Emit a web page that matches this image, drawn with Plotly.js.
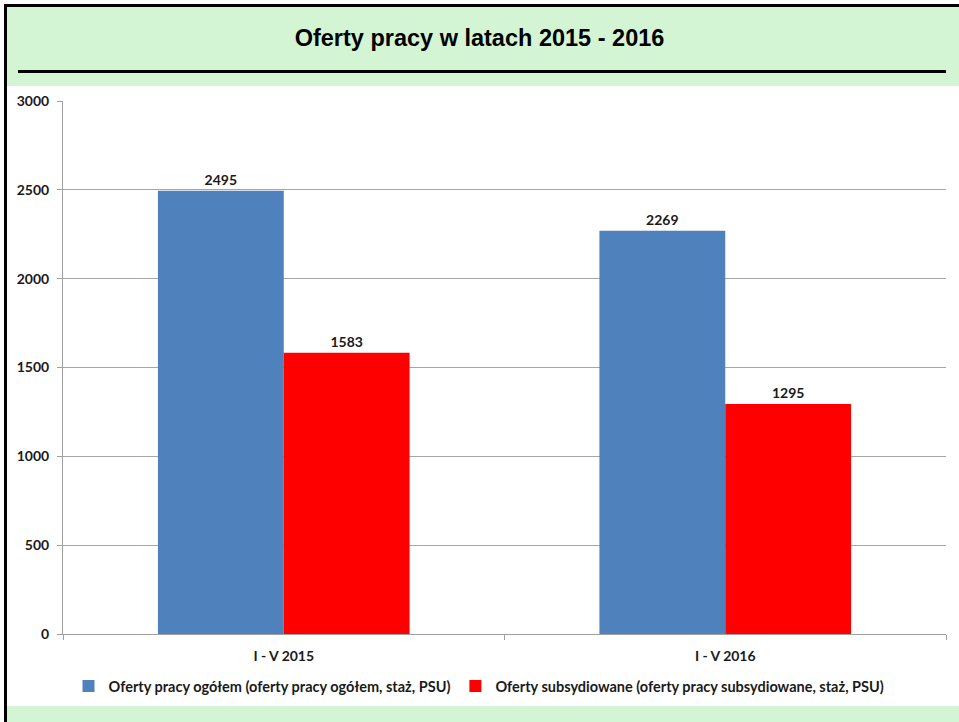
<!DOCTYPE html>
<html>
<head>
<meta charset="utf-8">
<script src="https://cdn.plot.ly/plotly-3.0.1.min.js"></script>
<style>
html,body{margin:0;padding:0;background:#fff;}
#chart{width:959px;height:722px;}
</style>
</head>
<body>
<div id="chart"></div>
<script>
const categories = ["I - V 2015", "I - V 2016"];
const seriesNames = ["Oferty pracy ogółem (oferty pracy ogółem, staż, PSU)", "Oferty subsydiowane (oferty pracy subsydiowane, staż, PSU)"];
const ogolem = [2495, 2269];
const subsydiowane = [1583, 1295];
const yTicks = [0, 500, 1000, 1500, 2000, 2500, 3000];
const titleText = "Oferty pracy w latach 2015 - 2016";

const W = 959, H = 722;
const L = 63, R = 946, T = 101, B = 634;
const px = x => (x - L) / (R - L);
const py = y => (B - y) / (B - T);

const labelFont = {family: "Lato, 'Open Sans', sans-serif", size: 14, color: "#1a1a1a", weight: "bold"};

const traces = [
  {type: "bar", name: seriesNames[0], x: categories, y: ogolem,
   marker: {color: "#4f81bd", line: {width: 0}},
   text: ogolem.map(String), textposition: "outside", cliponaxis: false,
   textfont: labelFont},
  {type: "bar", name: seriesNames[1], x: categories, y: subsydiowane,
   marker: {color: "#ff0000", line: {width: 0}},
   text: subsydiowane.map(String), textposition: "outside", cliponaxis: false,
   textfont: labelFont}
];

const green = "#d3f5d3";
const layout = {
  width: W, height: H,
  margin: {l: L, r: W - R, t: T, b: H - B, pad: 0},
  paper_bgcolor: "#ffffff",
  plot_bgcolor: "#ffffff",
  showlegend: true,
  barmode: "group",
  bargap: 0.43,
  bargroupgap: 0,
  title: {text: "<b>" + titleText + "</b>", font: {family: "'Liberation Sans', Arial, sans-serif", size: 23.5, color: "#000"},
          x: 0.5, xref: "container", xanchor: "center", y: 1 - 38 / H, yref: "container", yanchor: "middle"},
  xaxis: {type: "category", showgrid: false, showline: true, linecolor: "#a0a0a0", linewidth: 1,
          ticks: "outside", ticklen: 5, tickcolor: "#a0a0a0", tickson: "boundaries",
          tickfont: labelFont, ticklabelstandoff: 9, fixedrange: true},
  yaxis: {range: [0, 3000], tickvals: yTicks, ticktext: yTicks.map(String),
          showgrid: true, gridcolor: "#a6a6a6", gridwidth: 1, zeroline: false,
          showline: true, linecolor: "#a0a0a0", linewidth: 1,
          ticks: "outside", ticklen: 5, tickcolor: "#a0a0a0", tickfont: labelFont, ticklabelstandoff: 5, fixedrange: true},
  legend: {orientation: "h", x: px(68.5), xanchor: "left", y: py(686), yanchor: "middle",
           font: {family: "Lato, 'Open Sans', sans-serif", size: 14.5, color: "#1a1a1a", weight: "bold"},
           bgcolor: "rgba(0,0,0,0)", itemwidth: 30, tracegroupgap: 0},
  shapes: [
    {type: "rect", xref: "paper", yref: "paper", x0: px(7), x1: px(959), y0: py(86), y1: py(7), fillcolor: green, line: {width: 0}, layer: "below"},
    {type: "rect", xref: "paper", yref: "paper", x0: px(7), x1: px(959), y0: py(722), y1: py(706), fillcolor: green, line: {width: 0}, layer: "below"},
    {type: "rect", xref: "paper", yref: "paper", x0: px(4), x1: px(959), y0: py(7), y1: py(4), fillcolor: "#000", line: {width: 0}},
    {type: "rect", xref: "paper", yref: "paper", x0: px(4), x1: px(7), y0: py(722), y1: py(4), fillcolor: "#000", line: {width: 0}},
    {type: "rect", xref: "paper", yref: "paper", x0: px(18), x1: px(946), y0: py(73), y1: py(70), fillcolor: "#000", line: {width: 0}}
  ]
};

Plotly.newPlot("chart", traces, layout, {displayModeBar: false, staticPlot: true});
</script>
</body>
</html>
